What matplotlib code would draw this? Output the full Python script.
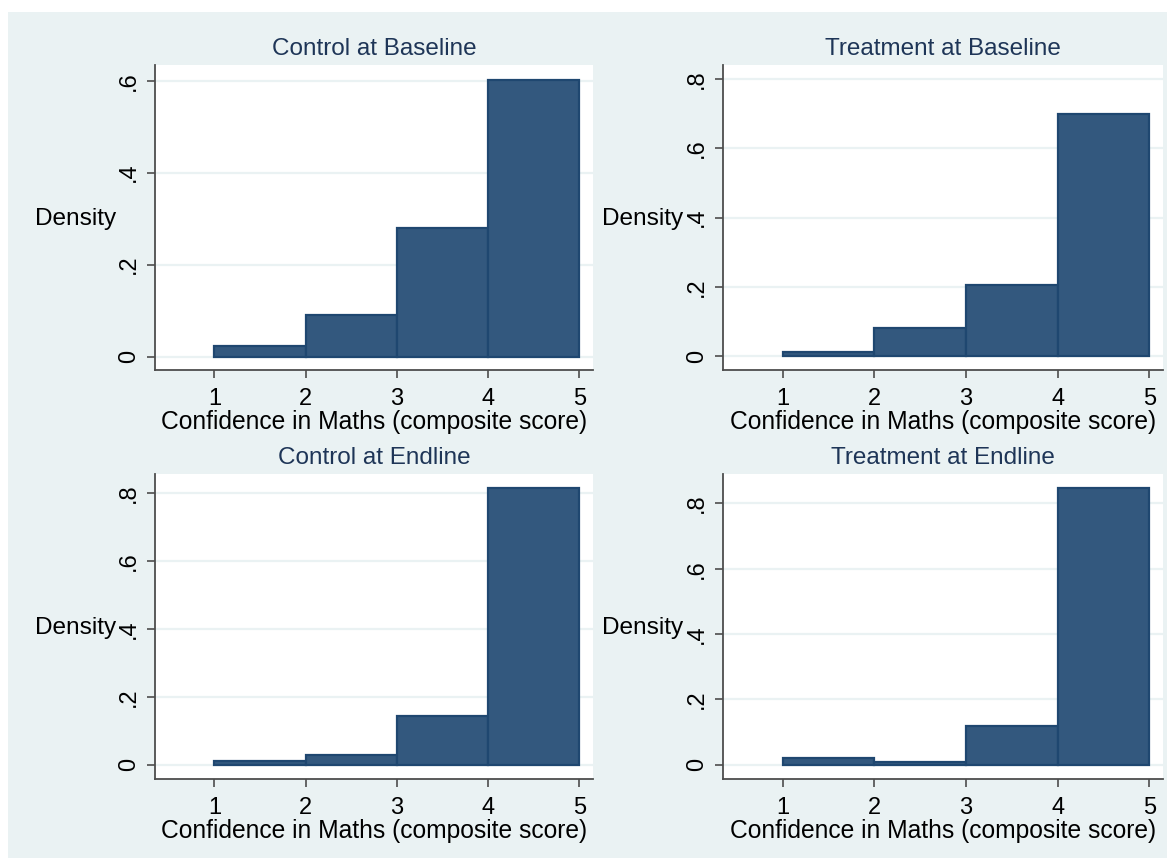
import matplotlib
matplotlib.use("Agg")
import matplotlib.pyplot as plt
from matplotlib.patches import Rectangle

plt.rcParams['font.family'] = ['Liberation Sans', 'DejaVu Sans']

# Histogram bins (composite score) and densities per group
bin_edges = [1, 2, 3, 4, 5]
titles = ["Control at Baseline", "Treatment at Baseline",
          "Control at Endline", "Treatment at Endline"]
control_baseline = [0.024, 0.090, 0.280, 0.602]
treatment_baseline = [0.013, 0.082, 0.205, 0.699]
control_endline = [0.012, 0.029, 0.142, 0.813]
treatment_endline = [0.021, 0.009, 0.119, 0.846]
densities = [control_baseline, treatment_baseline, control_endline, treatment_endline]

yticks_list = [[0, 0.2, 0.4, 0.6], [0, 0.2, 0.4, 0.6, 0.8],
               [0, 0.2, 0.4, 0.6, 0.8], [0, 0.2, 0.4, 0.6, 0.8]]
ylims = [(-0.029, 0.634), (-0.040, 0.841), (-0.042, 0.855), (-0.044, 0.890)]
xticks = [1, 2, 3, 4, 5]
xlabel = "Confidence in Maths (composite score)"
ylabel = "Density"

W, H = 1167, 858
BG = "#eaf2f3"
BAR_FILL = "#33587e"
BAR_EDGE = "#1f4770"
TITLE_COLOR = "#1e3557"
AXIS_COLOR = "#4d4d4d"

fig = plt.figure(figsize=(W / 100, H / 100), dpi=100)
fig.patch.set_facecolor("white")
fig.patches.append(Rectangle((8 / W, 0), 1 - 8 / W, 1 - 12 / H,
                             transform=fig.transFigure, facecolor=BG,
                             edgecolor="none", zorder=-10))

# axes boxes in pixels: left, top, right, bottom
boxes = [(155, 65, 593, 370), (723, 65, 1163, 370),
         (155, 474, 593, 779), (723, 474, 1163, 779)]


def fmt(v):
    if v == 0:
        return "0"
    return ("%.1f" % v).lstrip("0")


for box, title, dens, yt, yl in zip(boxes, titles, densities, yticks_list, ylims):
    l, t, r, b = box
    ax = fig.add_axes([l / W, 1 - b / H, (r - l) / W, (b - t) / H])
    ax.set_facecolor("white")
    ax.set_axisbelow(True)
    for yv in yt:
        ax.axhline(yv, color=BG, lw=1.6, zorder=0)
    ax.bar(bin_edges[:-1], dens, width=1, align="edge", color=BAR_FILL,
           edgecolor=BAR_EDGE, linewidth=1.6, zorder=2)
    ax.set_xlim(0.35, 5.15)
    ax.set_ylim(*yl)
    ax.set_xticks(xticks)
    ax.set_xticklabels([str(x) for x in xticks])
    ax.set_yticks(yt)
    ax.set_yticklabels([fmt(v) for v in yt], rotation=90, va="center")
    for s in ["top", "right"]:
        ax.spines[s].set_visible(False)
    for s in ["left", "bottom"]:
        ax.spines[s].set_color(AXIS_COLOR)
        ax.spines[s].set_linewidth(1.3)
    ax.tick_params(axis="both", direction="out", length=6, width=1.2,
                   color=AXIS_COLOR, labelsize=17, pad=5)
    ax.tick_params(axis="x", pad=7)
    ax.set_title(title, color=TITLE_COLOR, fontsize=17.5, pad=7)
    ax.set_xlabel(xlabel, fontsize=17.7, labelpad=0)
    ax.set_ylabel(ylabel, fontsize=17.6, rotation=0, ha="center", va="center")
    ax.yaxis.set_label_coords(-0.182, 0.495)

fig.savefig("out.png", dpi=100, facecolor=fig.get_facecolor())
